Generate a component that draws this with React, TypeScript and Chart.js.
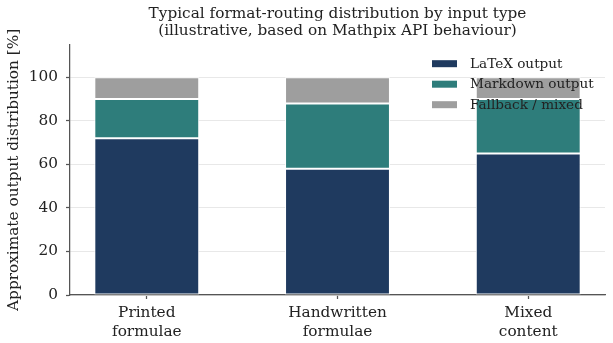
import { useEffect, useRef } from 'react';
import { Chart, registerables } from 'chart.js';

Chart.register(...registerables);

// Input types (x categories), two-line labels
const categories: string[][] = [
  ['Printed', 'formulae'],
  ['Handwritten', 'formulae'],
  ['Mixed', 'content'],
];

// Share of each output format per input type [%]
const latexShare = [72, 58, 65];
const markdownShare = [18, 30, 25];
const fallbackShare = [10, 12, 10];

const seriesNames = ['LaTeX output', 'Markdown output', 'Fallback / mixed'];
const seriesColors = ['#1f3a5f', '#2e7d7b', '#9e9e9e'];

const yTickValues = [0, 20, 40, 60, 80, 100];

const titleLines = [
  'Typical format-routing distribution by input type',
  '(illustrative, based on Mathpix API behaviour)',
];

const FONT = "'DejaVu Serif', serif";
const TEXT = '#222222';
const AXIS = '#555555';
const BASE_SIZE = 15.3;
const LEGEND_SIZE = 13.6;

// Legend drawn inside the plot, upper right, on top of the bars
const insideLegend = {
  id: 'insideLegend',
  afterDraw(chart: any) {
    const { ctx, chartArea } = chart;
    const x0 = chartArea.right - 173;
    const y0 = chartArea.top + 19;
    const rowGap = 20.5;
    ctx.save();
    ctx.font = `${LEGEND_SIZE}px ${FONT}`;
    ctx.textBaseline = 'middle';
    ctx.textAlign = 'left';
    chart.data.datasets.forEach((ds: any, i: number) => {
      const y = y0 + i * rowGap;
      ctx.fillStyle = ds.backgroundColor;
      ctx.fillRect(x0, y - 3.5, 25, 7);
      ctx.fillStyle = TEXT;
      ctx.fillText(ds.label, x0 + 38, y + 0.5);
    });
    ctx.restore();
  },
};

export default function App() {
  const canvasRef = useRef<HTMLCanvasElement | null>(null);

  useEffect(() => {
    if (!canvasRef.current) return;
    const series = [latexShare, markdownShare, fallbackShare];
    const chart = new Chart(canvasRef.current, {
      type: 'bar',
      data: {
        datasets: series.map((values, s) => ({
          label: seriesNames[s],
          data: values.map((v, i) => ({ x: i, y: v })),
          backgroundColor: seriesColors[s],
          borderColor: '#ffffff',
          borderWidth: 1,
          borderSkipped: false,
          categoryPercentage: 1,
          barPercentage: 0.55,
        })),
      },
      options: {
        responsive: false,
        animation: false,
        devicePixelRatio: 1,
        layout: { padding: { left: 0, right: 8, top: 0, bottom: 0 } },
        plugins: {
          legend: { display: false },
          tooltip: { enabled: false },
          title: {
            display: true,
            fullSize: false,
            text: titleLines,
            color: TEXT,
            font: { family: FONT, size: BASE_SIZE, weight: 'normal', lineHeight: 1.15 },
            padding: { top: 5, bottom: 4.5 },
          },
        },
        scales: {
          x: {
            type: 'linear',
            stacked: true,
            offset: false,
            min: -0.4025,
            max: 2.4025,
            afterBuildTicks: (scale: any) => {
              scale.ticks = categories.map((_, i) => ({ value: i }));
            },
            afterFit: (scale: any) => {
              scale.height = 48;
            },
            grid: {
              offset: false,
              drawOnChartArea: false,
              drawTicks: true,
              tickLength: 4,
              tickColor: AXIS,
              tickWidth: 1.25,
            },
            border: { display: true, color: AXIS, width: 1.25 },
            ticks: {
              color: TEXT,
              font: { family: FONT, size: BASE_SIZE, lineHeight: 1.2 },
              padding: 5,
              maxRotation: 0,
              autoSkip: false,
              callback: (value: any) => categories[Math.round(Number(value))] ?? '',
            },
          },
          y: {
            stacked: true,
            min: 0,
            max: 115,
            afterBuildTicks: (scale: any) => {
              scale.ticks = yTickValues.map((v) => ({ value: v }));
            },
            afterFit: (scale: any) => {
              scale.width = 70;
            },
            grid: {
              color: '#e8e8e8',
              lineWidth: 1,
              drawTicks: true,
              tickLength: 4,
              tickColor: AXIS,
              tickWidth: 1.25,
            },
            border: { display: true, color: AXIS, width: 1.25 },
            ticks: {
              color: TEXT,
              font: { family: FONT, size: BASE_SIZE },
              padding: 8,
            },
            title: {
              display: true,
              text: 'Approximate output distribution [%]',
              color: TEXT,
              font: { family: FONT, size: BASE_SIZE, lineHeight: 1.2 },
              padding: { top: 4.5, bottom: 0 },
            },
          },
        },
      },
      plugins: [insideLegend],
    });
    return () => chart.destroy();
  }, []);

  return (
    <div style={{ position: 'fixed', left: 0, top: 0, width: 613, height: 343, background: '#ffffff' }}>
      <canvas ref={canvasRef} width={613} height={343} style={{ display: 'block' }} />
    </div>
  );
}
